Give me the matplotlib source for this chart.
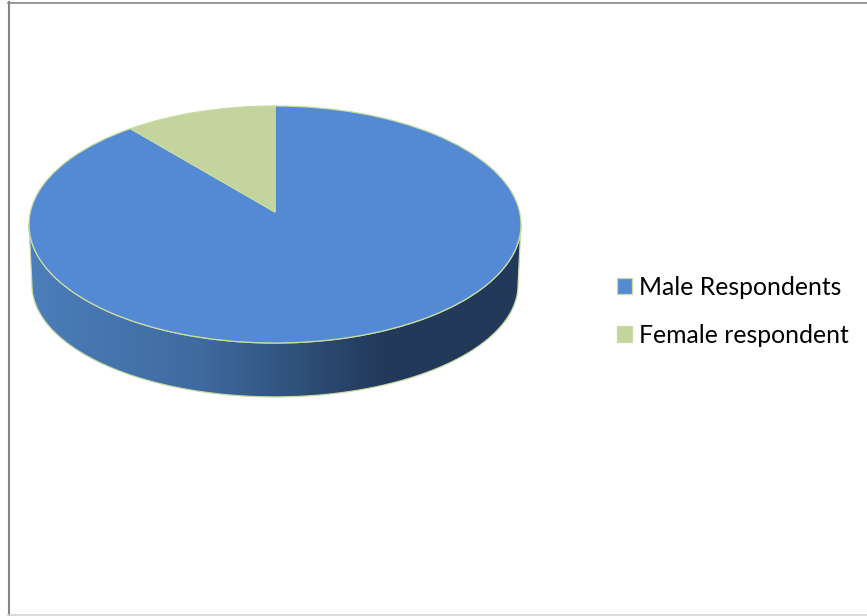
import numpy as np
import matplotlib
matplotlib.use('Agg')
import matplotlib.pyplot as plt
from matplotlib.colors import LinearSegmentedColormap
from matplotlib.lines import Line2D
from matplotlib.patches import Polygon

# share of respondents
labels = ['Male Respondents', 'Female respondent']
values = [90, 10]
colors = ['#548ad3', '#c3d49c']

W, H = 867, 616
RIM = '#c9dba5'

plt.rcParams['font.family'] = ['Lato', 'DejaVu Sans']

fig = plt.figure(figsize=(W / 100, H / 100), dpi=100)
ax = fig.add_axes([0, 0, 1, 1])

wedges, _ = ax.pie(values, colors=colors, startangle=90, counterclock=False,
                   wedgeprops={'edgecolor': RIM, 'linewidth': 0.9, 'zorder': 3})

# squash the unit pie into the tilted ellipse: pixel = centre + radius * data
cx, cy, rx, ry = 275, 224.5, 246, 118.5
ax.set_aspect('auto')
ax.set_xlim((0 - cx) / rx, (W - cx) / rx)
ax.set_ylim((cy - H) / ry, cy / ry)
ax.axis('off')

# the tilt moves the apex of the slices a bit above the ellipse centre
apex_y = (cy - 212) / ry
for w in wedges:
    v = w.get_path().vertices
    v[np.hypot(v[:, 0], v[:, 1]) < 1e-6, 1] = apex_y

# side wall, lower half of the top rim joined to a slightly smaller bottom rim
t = np.linspace(np.pi, 2 * np.pi, 200)
top_rim = np.column_stack([np.cos(t), np.sin(t)])
bot_rim = np.column_stack([0.988 * np.cos(t), -0.51 + 0.945 * np.sin(t)])
wall = Polygon(np.vstack([top_rim, bot_rim[::-1]]), closed=True,
               facecolor='none', edgecolor=RIM, linewidth=0.9, zorder=2)
ax.add_patch(wall)

shade = LinearSegmentedColormap.from_list(
    'wall', [(0, '#4c7eba'), (0.35, '#3f6a9f'), (0.55, '#2f5079'),
             (0.72, '#22395a'), (1, '#22395a')])
img = ax.imshow(np.linspace(0, 1, 512)[None, :], cmap=shade, aspect='auto',
                extent=(-1, 1, -1.5, 0), zorder=1)
img.set_clip_path(wall)
ax.set_xlim((0 - cx) / rx, (W - cx) / rx)
ax.set_ylim((cy - H) / ry, cy / ry)

fig.legend(wedges, labels, loc='upper left', bbox_to_anchor=(609.5 / W, 1 - 268.5 / H),
           frameon=False, fontsize=17.8, handlelength=0.6, handleheight=0.6,
           handletextpad=0.28, labelspacing=1.01, borderpad=0.3, borderaxespad=0)

# chart frame
gray = '#868686'
fig.add_artist(Line2D([8.5 / W, 8.5 / W], [0, 1 - 2 / H], color=gray, lw=1.5))
fig.add_artist(Line2D([8 / W, 1], [1 - 2.5 / H, 1 - 2.5 / H], color=gray, lw=1.2))
fig.add_artist(Line2D([8 / W, 1], [0.8 / H, 0.8 / H], color='#d4d4d4', lw=1.2))

fig.savefig('out.png', dpi=100, facecolor='white')
